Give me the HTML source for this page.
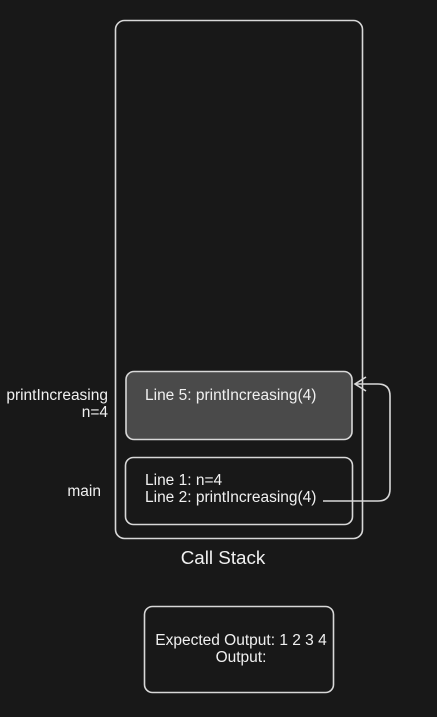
<!DOCTYPE html>
<html><head><style>
html,body{margin:0;padding:0;background:#181818;width:437px;height:717px;overflow:hidden}
svg{display:block}
text{font-family:"Liberation Sans",sans-serif;fill:#f0f0f0;font-size:15.5px}
</style></head><body>
<svg width="437" height="717" xmlns="http://www.w3.org/2000/svg">
<rect width="437" height="717" fill="#181818"/>
<g fill="none" stroke="#d8d8d8" stroke-width="1.6">
<rect x="115.5" y="20.5" width="247" height="518" rx="9"/>
<rect x="126" y="371.5" width="226" height="68" rx="8" fill="#4a4a4a"/>
<rect x="125.5" y="457.5" width="227" height="67" rx="8"/>
<rect x="144.5" y="606.5" width="189" height="86" rx="8"/>
<path d="M323 501 L378 501 Q390 501 390 489 L390 396 Q390 384 378 384 L355 384"/>
<path d="M366 377 L355 384 L366 391"/>
</g>
<text x="145" y="400">Line 5: printIncreasing(4)</text>
<text x="145" y="485">Line 1: n=4</text>
<text x="145" y="502">Line 2: printIncreasing(4)</text>
<text x="108" y="400" text-anchor="end">printIncreasing</text>
<text x="108" y="417" text-anchor="end">n=4</text>
<text x="101" y="496" text-anchor="end">main</text>
<text x="223" y="564" text-anchor="middle" style="font-size:18.8px">Call Stack</text>
<text x="241" y="645" text-anchor="middle">Expected Output: 1 2 3 4</text>
<text x="241" y="662" text-anchor="middle">Output:</text>
</svg>
</body></html>
